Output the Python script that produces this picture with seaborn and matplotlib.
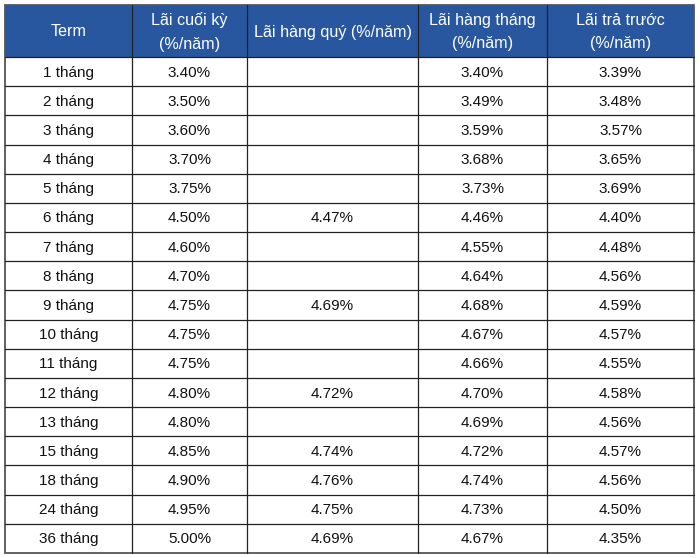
import numpy as np
import pandas as pd
import matplotlib
matplotlib.use("Agg")
import matplotlib.pyplot as plt
import seaborn as sns
from matplotlib.patches import Rectangle

# table content
headers = ["Term", "Lãi cuối kỳ\n(%/năm)", "Lãi hàng quý (%/năm)",
           "Lãi hàng tháng\n(%/năm)", "Lãi trả trước\n(%/năm)"]
terms = ["1 tháng", "2 tháng", "3 tháng", "4 tháng", "5 tháng", "6 tháng",
         "7 tháng", "8 tháng", "9 tháng", "10 tháng", "11 tháng", "12 tháng",
         "13 tháng", "15 tháng", "18 tháng", "24 tháng", "36 tháng"]
lai_cuoi_ky = [3.40, 3.50, 3.60, 3.70, 3.75, 4.50, 4.60, 4.70, 4.75, 4.75,
               4.75, 4.80, 4.80, 4.85, 4.90, 4.95, 5.00]
lai_hang_quy = [None, None, None, None, None, 4.47, None, None, 4.69, None,
                None, 4.72, None, 4.74, 4.76, 4.75, 4.69]
lai_hang_thang = [3.40, 3.49, 3.59, 3.68, 3.73, 4.46, 4.55, 4.64, 4.68, 4.67,
                  4.66, 4.70, 4.69, 4.72, 4.74, 4.73, 4.67]
lai_tra_truoc = [3.39, 3.48, 3.57, 3.65, 3.69, 4.40, 4.48, 4.56, 4.59, 4.57,
                 4.55, 4.58, 4.56, 4.57, 4.56, 4.50, 4.35]

df = pd.DataFrame({"term": terms, "cuoi_ky": lai_cuoi_ky, "hang_quy": lai_hang_quy,
                   "hang_thang": lai_hang_thang, "tra_truoc": lai_tra_truoc})


def fmt(v):
    if v is None or pd.isna(v):
        return ""
    return f"{v:.2f}%"


sns.set_theme(style="white")
plt.rcParams["font.family"] = ["Liberation Sans", "DejaVu Sans"]

fig = plt.figure(figsize=(7, 5.58), dpi=100)
ax = fig.add_axes([0, 0, 1, 1])
ax.set_xlim(0, 700)
ax.set_ylim(558, 0)
ax.axis("off")

col_edges = [5, 132, 247, 418, 547, 694]
top, head_bottom, bottom = 5, 57, 553
row_h = (bottom - head_bottom) / len(df)
header_blue = "#2857a0"

ax.add_patch(Rectangle((col_edges[0], top), col_edges[-1] - col_edges[0],
                       head_bottom - top, facecolor=header_blue, edgecolor="none"))

for j, h in enumerate(headers):
    xc = (col_edges[j] + col_edges[j + 1]) / 2
    ax.text(xc, (top + head_bottom) / 2 + 1, h, ha="center", va="center",
            color="white", fontsize=11.6, linespacing=1.68)

for i, row in enumerate(df.itertuples(index=False)):
    yc = head_bottom + (i + 0.5) * row_h + 1
    cells = [row.term, fmt(row.cuoi_ky), fmt(row.hang_quy),
             fmt(row.hang_thang), fmt(row.tra_truoc)]
    for j, c in enumerate(cells):
        xc = (col_edges[j] + col_edges[j + 1]) / 2
        ax.text(xc, yc, c, ha="center", va="center", color="#111111", fontsize=11)

# grid lines
line_col = "#222222"
for x in col_edges[1:-1]:
    ax.plot([x, x], [top, bottom], color=line_col, lw=0.9)
for i in range(len(df)):
    y = head_bottom + i * row_h
    ax.plot([col_edges[0], col_edges[-1]], [y, y], color=line_col, lw=0.9)

ax.add_patch(Rectangle((col_edges[0], top), col_edges[-1] - col_edges[0],
                       bottom - top, facecolor="none", edgecolor="#555555", lw=1.3))

fig.savefig("out.png", dpi=100)
